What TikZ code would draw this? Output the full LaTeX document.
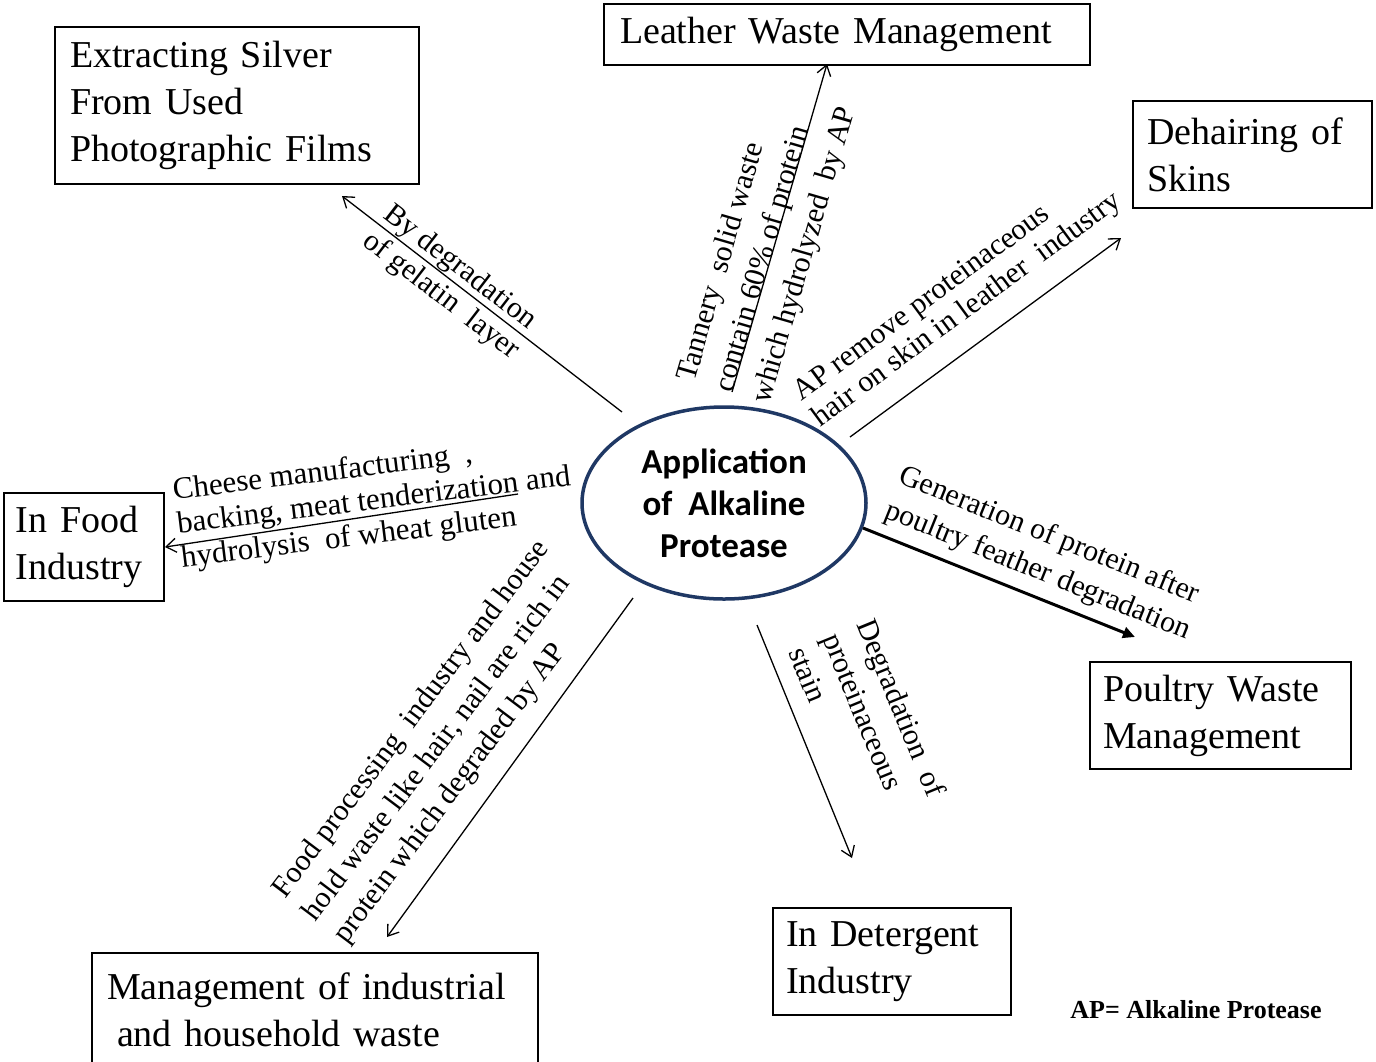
\documentclass[tikz,border=0pt]{standalone}
\usepackage{fontspec}
\setmainfont{Liberation Serif}
\newfontfamily\centerfont{Carlito}
\usetikzlibrary{arrows.meta,shapes.geometric}
\definecolor{navy}{RGB}{31,56,100}
\begin{document}
\begin{tikzpicture}[x=0.5pt,y=-0.5pt,
  box/.style={draw, line width=0.75pt, inner ysep=0pt, align=left,
    font=\fontsize{19}{23.5}\selectfont},
  lbl/.style={inner sep=0pt, align=left, anchor=west},
  arr/.style={-{Straight Barb[length=5pt,width=7pt]}, line width=0.65pt},
  thickarr/.style={-{Triangle[length=6pt,width=5.5pt]}, line width=1.5pt},
]
\useasboundingbox (0,0) rectangle (1376,1061);
\fill[white] (0,0) rectangle (1376,1061);

% boxes
\node[box, text width=167pt, inner xsep=7.5pt, minimum height=78.5pt] (silver) at (237,105.5)
  {Extracting Silver\\From Used\\Photographic Films};
\node[box, text width=227pt, inner xsep=8pt, minimum height=30.5pt] (leather) at (847,34.5)
  {Leather Waste Management};
\node[box, text width=105.5pt, inner xsep=7pt, minimum height=53.5pt] (dehair) at (1252.5,154.5)
  {Dehairing of\\Skins};
\node[box, text width=68pt, inner xsep=6pt, minimum height=54pt] (food) at (84,547)
  {In Food\\Industry};
\node[box, text width=117.5pt, inner xsep=6.5pt, minimum height=53.5pt] (poultry) at (1220.5,715.5)
  {Poultry Waste\\Management};
\node[box, text width=106pt, inner xsep=6.5pt, minimum height=53.5pt] (deterg) at (892,961.5)
  {In Detergent\\Industry};
\node[box, text width=208pt, inner xsep=7.5pt, minimum height=56.5pt] (mgmt) at (315,1009.5)
  {Management of industrial\\\hspace*{5pt}and household waste};

% centre
\node[ellipse, draw=navy, line width=1.75pt, minimum width=142pt, minimum height=96pt,
  inner sep=0pt, align=center, font=\centerfont\bfseries\fontsize{17.5}{21}\selectfont]
  (c) at (724,503) {Application\\of~ Alkaline\\Protease};

% connectors
\coordinate (a1s) at (622,412); \coordinate (a1e) at (342,196);
\coordinate (a2s) at (732,392); \coordinate (a2e) at (827,64);
\coordinate (a3s) at (850,437); \coordinate (a3e) at (1121,238);
\coordinate (a4s) at (518,494); \coordinate (a4e) at (165,547);
\coordinate (a5s) at (863,528); \coordinate (a5e) at (1135,637);
\coordinate (a6s) at (757,625); \coordinate (a6e) at (852,858);
\coordinate (a7s) at (633,598); \coordinate (a7e) at (387,937);
\draw[arr] (a1s) -- (a1e);
\draw[arr] (a2s) -- (a2e);
\draw[arr] (a3s) -- (a3e);
\draw[arr] (a4s) -- (a4e);
\draw[thickarr] (a5s) -- (a5e);
\draw[arr] (a6s) -- (a6e);
\draw[arr] (a7s) -- (a7e);

% labels
\node[lbl, rotate=-37.6, font=\fontsize{15}{17}\selectfont] (l1) at (376,225)
  {By degradation\\of gelatin~ layer};
\node[lbl, rotate=73.8, font=\fontsize{15}{19.5}\selectfont] (l2) at (725,392)
  {Tannery~ solid waste\\contain 60\% of protein\\which hydrolyzed~ by AP};
\node[lbl, rotate=36.4, font=\fontsize{15}{16}\selectfont] (l3) at (807,409)
  {AP remove proteinaceous\\hair on skin in leather~ industry};
\node[lbl, rotate=7, font=\fontsize{15.5}{17}\selectfont] (l4) at (177,526)
  {Cheese manufacturing~ ,\\backing, meat tenderization and\\hydrolysis~ of wheat gluten};
\node[lbl, rotate=-22, font=\fontsize{15}{18.5}\selectfont] (l5) at (893,493)
  {Generation of protein after\\poultry feather degradation};
\node[lbl, rotate=-67.8, font=\fontsize{15}{18.5}\selectfont] (l6) at (832,634)
  {Degradation~ of\\proteinaceous\\stain};
\node[lbl, rotate=53, font=\fontsize{15}{19}\selectfont] (l7) at (310,918)
  {Food processing~ industry and house\\hold waste like hair, nail are rich in\\protein which degraded by AP};

\node[inner sep=0pt, font=\bfseries\fontsize{13}{15}\selectfont] (note) at (1196,1010)
  {AP= Alkaline Protease};
\end{tikzpicture}
\end{document}
